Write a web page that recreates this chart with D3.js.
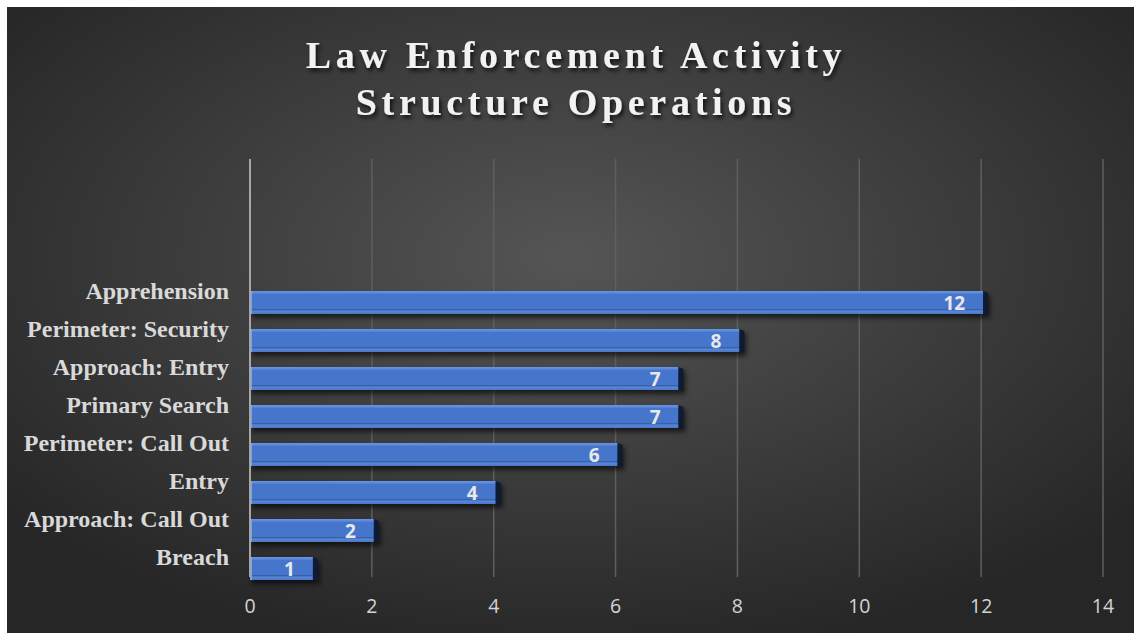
<!DOCTYPE html>
<html>
<head>
<meta charset="utf-8">
<script src="https://cdn.jsdelivr.net/npm/d3@7"></script>
<style>
  body { margin: 0; background: #ffffff; }
  svg { display: block; }
</style>
</head>
<body>
<svg id="chart" width="1134" height="633"></svg>
<script>
// data (top to bottom)
var categories = ["Apprehension", "Perimeter: Security", "Approach: Entry", "Primary Search",
                  "Perimeter: Call Out", "Entry", "Approach: Call Out", "Breach"];
var counts = [12, 8, 7, 7, 6, 4, 2, 1];
var xTicks = [0, 2, 4, 6, 8, 10, 12, 14];
var titleLines = ["Law Enforcement Activity", "Structure Operations"];

var svg = d3.select("#chart");
var defs = svg.append("defs");

// background gradient
var bg = defs.append("radialGradient").attr("id", "bgGrad")
	.attr("cx", "50%").attr("cy", "40%").attr("r", "65%");
bg.append("stop").attr("offset", "0%").attr("stop-color", "#555555");
bg.append("stop").attr("offset", "100%").attr("stop-color", "#262626");

var fg = defs.append("linearGradient").attr("id", "barGrad")
	.attr("x1", 0).attr("y1", 0).attr("x2", 0).attr("y2", 1);
fg.append("stop").attr("offset", "0%").attr("stop-color", "#6a95e3");
fg.append("stop").attr("offset", "13%").attr("stop-color", "#4f80d6");
fg.append("stop").attr("offset", "14%").attr("stop-color", "#4676cc");
fg.append("stop").attr("offset", "78%").attr("stop-color", "#4676cc");
fg.append("stop").attr("offset", "82%").attr("stop-color", "#2e5294");
fg.append("stop").attr("offset", "86%").attr("stop-color", "#5a87d8");
fg.append("stop").attr("offset", "100%").attr("stop-color", "#4a78c9");

var shadowF = defs.append("filter").attr("id", "barShadow")
	.attr("x", "-5%").attr("y", "-50%").attr("width", "110%").attr("height", "200%");
shadowF.append("feGaussianBlur").attr("stdDeviation", 2.5);

var txtShadow = defs.append("filter").attr("id", "txtShadow")
	.attr("x", "-5%").attr("y", "-20%").attr("width", "110%").attr("height", "150%");
txtShadow.append("feDropShadow").attr("dx", 2).attr("dy", 3).attr("stdDeviation", 2)
	.attr("flood-color", "#000").attr("flood-opacity", 0.75);

svg.append("rect").attr("x", 7).attr("y", 7).attr("width", 1127).attr("height", 626)
	.attr("fill", "url(#bgGrad)");

// scales
var x = d3.scaleLinear().domain([0, 14]).range([250, 1103]);
var plotTop = 159, plotBottom = 577;
// 11 slots of the category axis, the top 3 stay empty
var y = d3.scaleBand().domain(categories).range([plotBottom - 38 * categories.length, plotBottom]);

// grid
svg.append("g").selectAll("line").data(xTicks.slice(1)).enter().append("line")
	.attr("x1", function(d) { return x(d); }).attr("x2", function(d) { return x(d); })
	.attr("y1", plotTop).attr("y2", plotBottom)
	.attr("stroke", "#5f5f5f").attr("stroke-width", 1.5);

// x tick labels
svg.append("g").selectAll("text").data(xTicks).enter().append("text")
	.attr("x", function(d) { return x(d); }).attr("y", 613)
	.attr("text-anchor", "middle")
	.attr("font-family", "'Open Sans', 'Noto Sans', sans-serif")
	.attr("font-size", 19.5).attr("fill", "#d4d4d4")
	.text(function(d) { return d; });

// bars
var barH = 23, depth = 5, over = 2;
var bars = svg.append("g").selectAll("g").data(categories).enter().append("g")
	.attr("transform", function(d) { return "translate(0," + (y(d) + y.bandwidth() / 2 - 1) + ")"; });

bars.append("rect")
	.attr("x", x(0) + 2).attr("y", 4)
	.attr("width", function(d, i) { return x(counts[i]) - x(0) + over + depth; })
	.attr("height", barH)
	.attr("fill", "#000").attr("opacity", 0.6)
	.attr("filter", "url(#barShadow)");

bars.append("rect")
	.attr("x", x(0)).attr("y", 0)
	.attr("width", function(d, i) { return x(counts[i]) - x(0) + over; })
	.attr("height", barH)
	.attr("fill", "url(#barGrad)");

bars.append("path")
	.attr("d", function(d, i) {
		var e = x(counts[i]) + over;
		return "M" + e + ",0 L" + (e + depth) + "," + 2 + " L" + (e + depth) + "," + (barH + 1) + " L" + e + "," + barH + " Z";
	})
	.attr("fill", "#0e1b33");

bars.append("line")
	.attr("x1", x(0) + 1).attr("x2", x(0) + 1).attr("y1", 0).attr("y2", barH)
	.attr("stroke", "#8fb0ee").attr("stroke-width", 1.5);

// value labels
bars.append("text")
	.attr("x", function(d, i) { return x(counts[i]) - 16; })
	.attr("y", barH / 2 + 7)
	.attr("text-anchor", "end")
	.attr("font-family", "'Open Sans', 'Noto Sans', sans-serif")
	.attr("font-weight", "bold").attr("font-size", 19)
	.attr("fill", "#e8e8e8")
	.text(function(d, i) { return counts[i]; });

// zero axis
svg.append("line").attr("x1", x(0)).attr("x2", x(0)).attr("y1", plotTop).attr("y2", plotBottom)
	.attr("stroke", "#a6a6a6").attr("stroke-width", 2);

// category labels
svg.append("g").selectAll("text").data(categories).enter().append("text")
	.attr("x", 229)
	.attr("y", function(d) { return y(d) + y.bandwidth() / 2 + 7; })
	.attr("text-anchor", "end")
	.attr("font-family", "'Liberation Serif', 'Times New Roman', serif")
	.attr("font-weight", "bold").attr("font-size", 24)
	.attr("fill", "#d9d9d9")
	.text(function(d) { return d; });

// title
svg.append("g").selectAll("text").data(titleLines).enter().append("text")
	.attr("x", 576)
	.attr("y", function(d, i) { return 68 + i * 47; })
	.attr("text-anchor", "middle")
	.attr("font-family", "'Liberation Serif', 'Times New Roman', serif")
	.attr("font-weight", "bold").attr("font-size", 38)
	.attr("letter-spacing", 4.7)
	.attr("fill", "#f2f2f2")
	.attr("filter", "url(#txtShadow)")
	.text(function(d) { return d; });
</script>
</body>
</html>
